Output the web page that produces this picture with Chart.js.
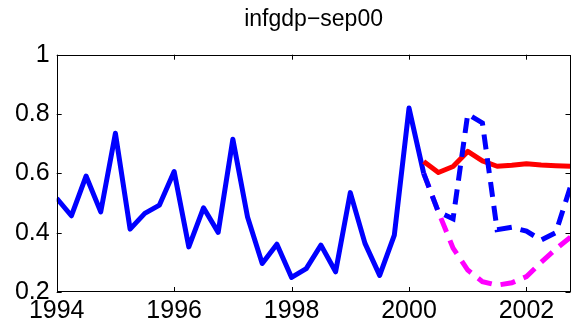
<!DOCTYPE html>
<html>
<head>
<meta charset="utf-8">
<script src="https://cdn.jsdelivr.net/npm/chart.js@4/dist/chart.umd.min.js"></script>
<style>
  html, body { margin: 0; padding: 0; background: #fff; }
  #wrap { width: 573px; height: 333px; }
</style>
</head>
<body>
<div id="wrap"><canvas id="c" width="573" height="333"></canvas></div>
<script>
// ---- data ----
const chartTitle = "infgdp\u2212sep00";
const xTickYears = [1994, 1996, 1998, 2000, 2002];
const yTickValues = [0.2, 0.4, 0.6, 0.8, 1];

const actualDates = [1994.00, 1994.25, 1994.50, 1994.75, 1995.00, 1995.25, 1995.50, 1995.75,
                     1996.00, 1996.25, 1996.50, 1996.75, 1997.00, 1997.25, 1997.50, 1997.75,
                     1998.00, 1998.25, 1998.50, 1998.75, 1999.00, 1999.25, 1999.50, 1999.75,
                     2000.00, 2000.25];
const actualValues = [0.516, 0.457, 0.591, 0.470, 0.735, 0.412, 0.465, 0.493,
                      0.606, 0.352, 0.484, 0.401, 0.715, 0.453, 0.296, 0.361,
                      0.249, 0.279, 0.358, 0.268, 0.535, 0.364, 0.256, 0.392,
                      0.820, 0.600];

const forecastDates = [2000.25, 2000.50, 2000.75, 2001.00, 2001.25, 2001.50,
                       2001.75, 2002.00, 2002.25, 2002.50, 2002.75];
const redValues     = [0.640, 0.603, 0.623, 0.674, 0.642, 0.624, 0.627, 0.632, 0.628, 0.626, 0.624];
const blueDashValues = [0.600, 0.470, 0.447, 0.800, 0.770, 0.410, 0.418, 0.405, 0.375, 0.400, 0.556];
const magentaValues = [0.600, 0.470, 0.348, 0.274, 0.235, 0.223, 0.231, 0.252, 0.300, 0.345, 0.385];

const pts = (xs, ys) => xs.map((x, i) => ({ x: x, y: ys[i] }));

const FONT = "'Liberation Sans', Arial, Helvetica, sans-serif";

const boxPlugin = {
  id: 'matlabBox',
  afterDraw(chart) {
    const { ctx, chartArea: a, scales } = chart;
    ctx.save();
    ctx.strokeStyle = '#000';
    ctx.lineWidth = 1;
    ctx.strokeRect(Math.round(a.left) + 0.5, Math.round(a.top) + 0.5,
                   Math.round(a.right - a.left) - 1, Math.round(a.bottom - a.top) - 1);
    const tl = 5;
    ctx.beginPath();
    scales.x.ticks.forEach(t => {
      const px = Math.round(scales.x.getPixelForValue(t.value)) + 0.5;
      ctx.moveTo(px, a.bottom); ctx.lineTo(px, a.bottom - tl);
      ctx.moveTo(px, a.top); ctx.lineTo(px, a.top + tl);
    });
    scales.y.ticks.forEach(t => {
      const py = Math.round(scales.y.getPixelForValue(t.value)) + 0.5;
      ctx.moveTo(a.left, py); ctx.lineTo(a.left + tl, py);
      ctx.moveTo(a.right, py); ctx.lineTo(a.right - tl, py);
    });
    ctx.stroke();
    ctx.restore();
  }
};

new Chart(document.getElementById('c'), {
  type: 'line',
  data: {
    datasets: [
      { label: 'forecast (dashed blue)', data: pts(forecastDates, blueDashValues),
        borderColor: '#0000ff', borderWidth: 5, borderDash: [15, 9], borderCapStyle: 'butt',
        pointRadius: 0, tension: 0, order: 0 },
      { label: 'forecast (magenta)', data: pts(forecastDates, magentaValues),
        borderColor: '#ff00ff', borderWidth: 5, borderDash: [15, 9], borderCapStyle: 'butt',
        pointRadius: 0, tension: 0, order: 1 },
      { label: 'forecast (red)', data: pts(forecastDates, redValues),
        borderColor: '#ff0000', borderWidth: 5, borderJoinStyle: 'round',
        pointRadius: 0, tension: 0, order: 2 },
      { label: 'actual', data: pts(actualDates, actualValues),
        borderColor: '#0000ff', borderWidth: 5, borderJoinStyle: 'round',
        pointRadius: 0, tension: 0, order: 3 }
    ]
  },
  options: {
    responsive: false,
    animation: false,
    devicePixelRatio: 1,
    layout: { padding: { left: 0, right: 2.5, top: 0, bottom: 0 } },
    plugins: {
      legend: { display: false },
      tooltip: { enabled: false },
      title: {
        display: true, text: chartTitle, fullSize: false, color: '#000',
        font: { family: FONT, size: 23, weight: 'normal' },
        padding: { top: 6, bottom: 21.1 }
      }
    },
    scales: {
      x: {
        type: 'linear', min: 1994, max: 2002.75,
        afterBuildTicks: s => { s.ticks = xTickYears.map(v => ({ value: v })); },
        afterFit: s => { s.height = 41; },
        grid: { display: false, drawTicks: false },
        border: { display: false },
        ticks: { color: '#000', padding: 4, maxRotation: 0, autoSkip: false,
                 font: { family: FONT, size: 25 }, callback: v => String(v) }
      },
      y: {
        type: 'linear', min: 0.2, max: 1,
        afterBuildTicks: s => { s.ticks = yTickValues.map(v => ({ value: v })); },
        afterFit: s => { s.width = 56.7; },
        grid: { display: false, drawTicks: false },
        border: { display: false },
        ticks: { color: '#000', padding: 7,
                 font: { family: FONT, size: 25 }, callback: v => String(+v.toFixed(1)) }
      }
    }
  },
  plugins: [boxPlugin]
});
</script>
</body>
</html>
